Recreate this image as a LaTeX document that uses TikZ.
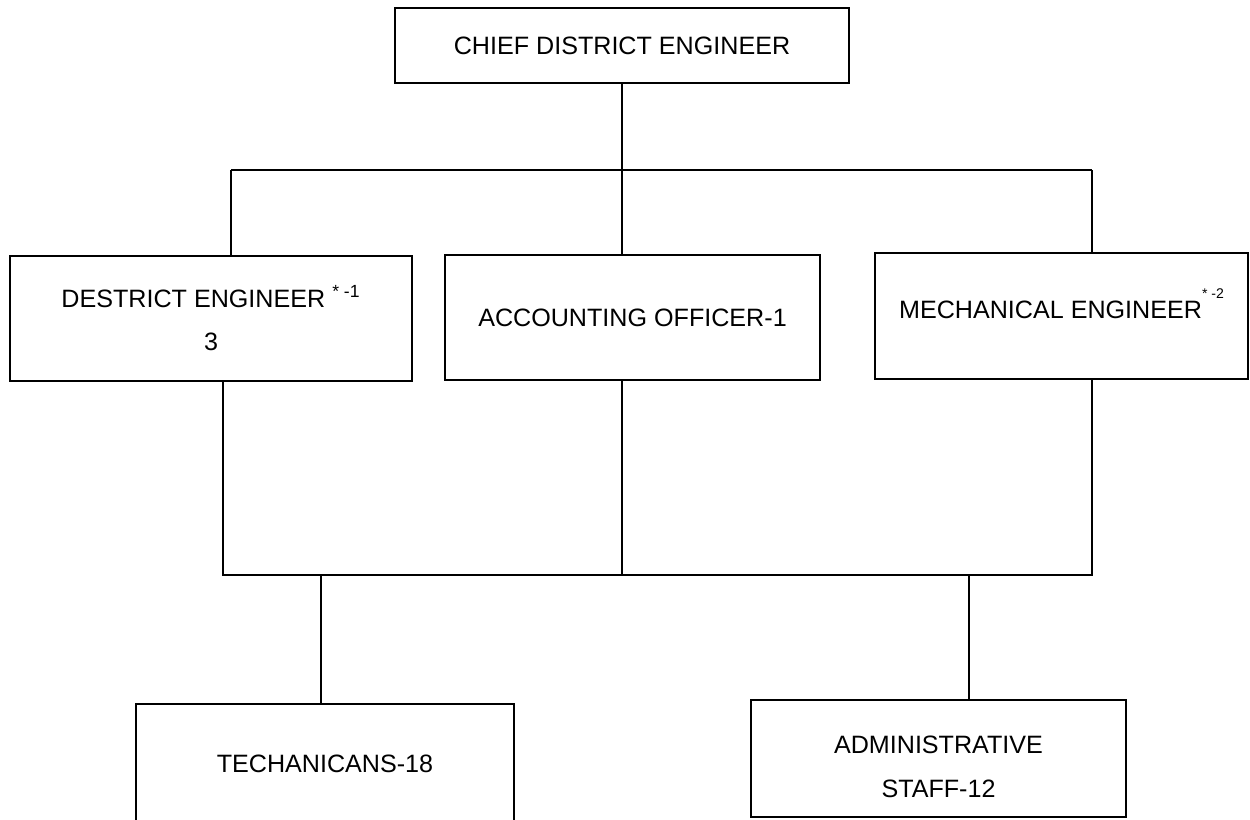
\documentclass[tikz,border=0pt]{standalone}
\usepackage{fontspec}
\setmainfont{Liberation Sans}
\usepackage{tikz}
\usetikzlibrary{positioning,calc}

\begin{document}
\begin{tikzpicture}[x=0.02cm,y=-0.02cm,
  line width=1.1pt,
  post/.style={draw,rectangle,inner sep=0pt,align=center,
    font=\fontsize{14.3}{25}\selectfont}
]
\useasboundingbox (0,0) rectangle (1250,819);
\clip (0,0) rectangle (1250,819);

% the head of the district
\node[post,minimum width=9.08cm,minimum height=1.5cm] (chief) at (622,45.5)
  {CHIEF DISTRICT ENGINEER};

% the three posts under him
\node[post,minimum width=8.04cm,minimum height=2.5cm] (destrict) at (211,318.5)
  {DESTRICT ENGINEER \textsuperscript{* -1}\\3};
\node[post,minimum width=7.5cm,minimum height=2.5cm] (accounting) at (632.5,317.5)
  {ACCOUNTING OFFICER-1};
\node[post,minimum width=7.46cm,minimum height=2.52cm] (mech) at (1061.5,316)
  {\raisebox{-0.04cm}[0pt][0pt]{MECHANICAL ENGINEER\raisebox{0.4cm}{\footnotesize* -2}}};

% the staff
\node[post,minimum width=7.56cm,minimum height=2.4cm] (techn) at (325,764)
  {TECHANICANS-18};
\node[post,minimum width=7.5cm,minimum height=2.34cm] (admin) at (938.5,758.5)
  {\rule{0pt}{0.68cm}ADMINISTRATIVE\\STAFF-12};

% the upper bus
\coordinate (up) at (622,170);
\coordinate (upL) at (231,170);
\coordinate (upR) at (1092,170);
\draw (chief) -- (up);
\draw (upL) -- (upR);
\draw (upL) -- (upL |- destrict.north);
\draw (up) -- (up |- accounting.north);
\draw (upR) -- (upR |- mech.north);

% the lower bus
\coordinate (lowL) at (223,575);
\coordinate (lowM) at (622,575);
\coordinate (lowR) at (1092,575);
\coordinate (lowT) at (321,575);
\coordinate (lowA) at (969,575);
\draw (lowL |- destrict.south) -- (lowL) -- (lowR) -- (lowR |- mech.south);
\draw (lowM |- accounting.south) -- (lowM);
\draw (lowT) -- (lowT |- techn.north);
\draw (lowA) -- (lowA |- admin.north);
\end{tikzpicture}
\end{document}
